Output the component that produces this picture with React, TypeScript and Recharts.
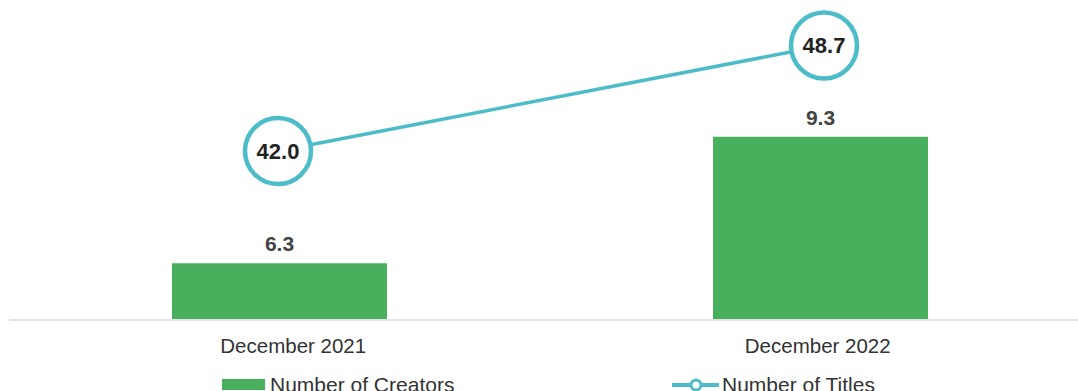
import React from 'react';
import {
    ComposedChart,
    Bar,
    Line,
    XAxis,
    YAxis,
    Legend,
    LabelList,
} from 'recharts';

const months = ['December 2021', 'December 2022'];
const creators = [6.3, 9.3];
const titles = [42.0, 48.7];

const GREEN = '#48b05c';
const TEAL = '#4dbcc9';
const FONT = '"Liberation Sans", Arial, sans-serif';

const data = months.map((month, i) => ({
    month,
    creators: creators[i],
    titles: titles[i],
}));

// legend item spots
const legendLeft: Record<string, number> = {
    creators: 222,
    titles: 672,
};

function LegendContent(props: any) {
    const { payload = [] } = props;
    return (
        <div style={{ position: 'relative', height: 21, fontFamily: FONT }}>
            {payload.map((entry: any) => {
                const isLine = entry.type === 'line' || entry.dataKey === 'titles';
                return (
                    <div
                        key={entry.dataKey}
                        style={{
                            position: 'absolute',
                            left: legendLeft[entry.dataKey],
                            top: 0,
                            height: 21,
                            display: 'flex',
                            alignItems: 'center',
                            whiteSpace: 'nowrap',
                        }}
                    >
                        {isLine ? (
                            <svg width={47} height={14} style={{ marginRight: 3 }}>
                                <line x1={0} y1={7} x2={47} y2={7} stroke={TEAL} strokeWidth={4} />
                                <circle cx={24} cy={7} r={5} fill="#fff" stroke={TEAL} strokeWidth={3} />
                            </svg>
                        ) : (
                            <svg width={43} height={11} style={{ marginRight: 5 }}>
                                <rect x={0} y={0} width={43} height={11} fill={GREEN} />
                            </svg>
                        )}
                        <span style={{ fontSize: 21, lineHeight: '21px', color: '#333' }}>
                            {entry.value}
                        </span>
                    </div>
                );
            })}
        </div>
    );
}

export default function App() {
    return (
        <div
            style={{
                position: 'absolute',
                top: 0,
                left: 0,
                width: 1078,
                height: 391,
                overflow: 'hidden',
                background: '#fff',
            }}
        >
            <ComposedChart
                width={1095}
                height={400}
                data={data}
                margin={{ top: 0, right: 4, bottom: 0, left: 9 }}
                style={{ fontFamily: FONT }}
            >
                <XAxis
                    xAxisId="ticks"
                    dataKey="month"
                    height={80}
                    padding={{ left: 22, right: 11 }}
                    axisLine={{ stroke: '#e3e3e3', strokeWidth: 2 }}
                    tickLine={false}
                    tickSize={0}
                    tickMargin={18}
                    tick={{ fontSize: 20.5, fill: '#333' }}
                />
                <XAxis xAxisId="bars" dataKey="month" hide height={0} />
                <XAxis xAxisId="line" dataKey="month" hide height={0} padding={{ left: -4, right: -6 }} />
                <YAxis yAxisId="bars" hide width={0} domain={[4.957, 12.54]} allowDataOverflow />
                <YAxis yAxisId="line" hide width={0} domain={[31.27, 51.59]} allowDataOverflow />
                <Legend
                    layout="horizontal"
                    verticalAlign="middle"
                    align="center"
                    wrapperStyle={{ top: 374, left: 0, width: 1095, height: 21 }}
                    content={<LegendContent />}
                />
                <Bar
                    xAxisId="bars"
                    yAxisId="bars"
                    dataKey="creators"
                    name="Number of Creators"
                    fill={GREEN}
                    barSize={215}
                    isAnimationActive={false}
                >
                    <LabelList
                        dataKey="creators"
                        position="top"
                        offset={12}
                        formatter={(v: any) => Number(v).toFixed(1)}
                        style={{ fontSize: 21, fontWeight: 700, fill: '#444' }}
                    />
                </Bar>
                <Line
                    xAxisId="line"
                    yAxisId="line"
                    dataKey="titles"
                    name="Number of Titles"
                    stroke={TEAL}
                    strokeWidth={3.5}
                    dot={{ r: 33, fill: '#fff', stroke: TEAL, strokeWidth: 4.5 }}
                    activeDot={false}
                    isAnimationActive={false}
                >
                    <LabelList
                        dataKey="titles"
                        position="center"
                        formatter={(v: any) => Number(v).toFixed(1)}
                        style={{ fontSize: 22, fontWeight: 700, fill: '#222' }}
                    />
                </Line>
            </ComposedChart>
        </div>
    );
}
